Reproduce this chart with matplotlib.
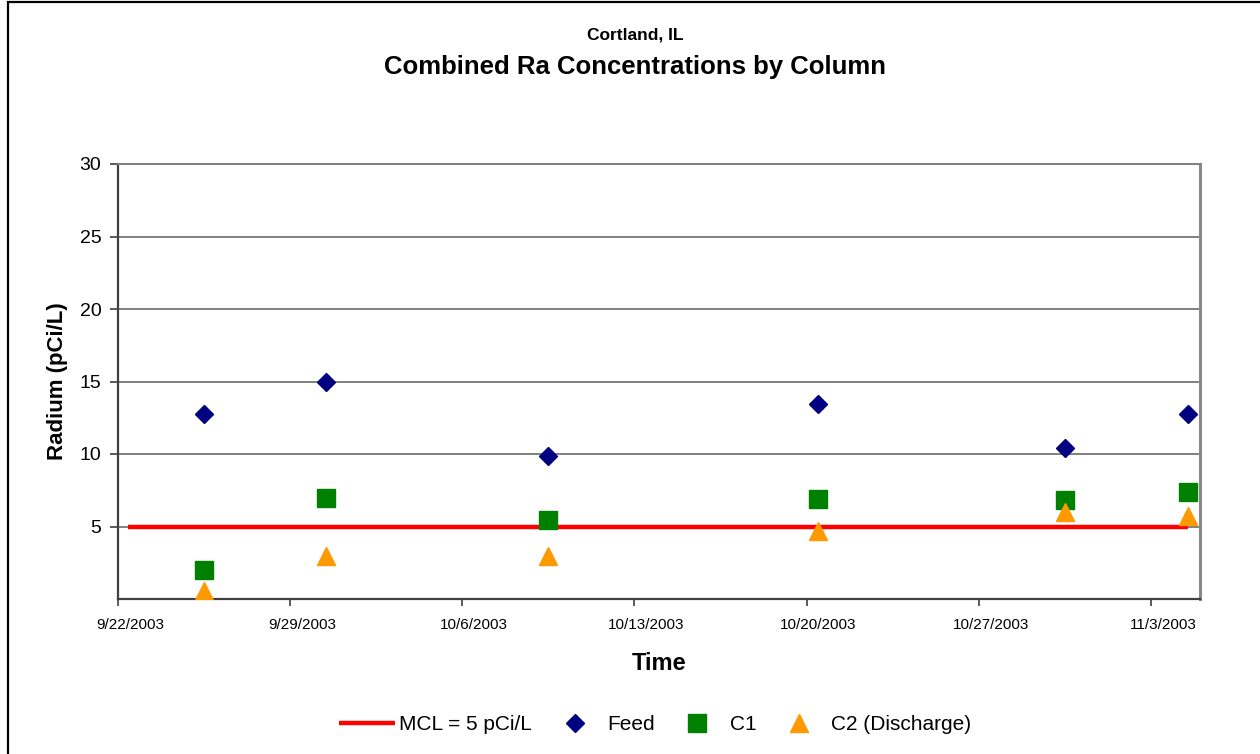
import matplotlib
matplotlib.use('Agg')
import matplotlib.pyplot as plt
import matplotlib.dates as mdates
import matplotlib.transforms as mtransforms
from matplotlib.patches import Rectangle
import pandas as pd

plt.rcParams['font.family'] = ['Liberation Sans', 'DejaVu Sans']

# sample dates (points sit around midday)
sample_dates = pd.to_datetime(['2003-09-25 12:00', '2003-09-30 11:00', '2003-10-09 12:00',
                               '2003-10-20 11:00', '2003-10-30 12:00', '2003-11-04 12:00'])
feed = [12.75, 14.97, 9.86, 13.45, 10.38, 12.76]
c1 = [2.0, 6.94, 5.45, 6.87, 6.83, 7.38]
c2 = [0.55, 3.0, 2.97, 4.69, 6.02, 5.70]

mcl_dates = pd.to_datetime(['2003-09-22 10:00', '2003-11-04 12:00'])
mcl_values = [5, 5]

tick_dates = pd.to_datetime(['2003-09-22', '2003-09-29', '2003-10-06', '2003-10-13',
                             '2003-10-20', '2003-10-27', '2003-11-03'])
tick_labels = ['9/22/2003', '9/29/2003', '10/6/2003', '10/13/2003',
               '10/20/2003', '10/27/2003', '11/3/2003']

fig = plt.figure(figsize=(12.6, 7.54), dpi=100)
ax = fig.add_axes([118 / 1260, 155 / 754, 1082 / 1260, 435 / 754])

ax.plot(mcl_dates, mcl_values, color='#FF0000', lw=3.2, solid_capstyle='butt',
        label='MCL = 5 pCi/L', zorder=3)
ax.plot(sample_dates, feed, ls='none', marker='D', ms=9.4, color='#000080',
        label='Feed', zorder=4)
ax.plot(sample_dates, c1, ls='none', marker='s', ms=13, color='#008000',
        label='C1', zorder=4)
ax.plot(sample_dates, c2, ls='none', marker='^', ms=13, color='#FF9900',
        label='C2 (Discharge)', zorder=5)

ax.set_xlim(pd.Timestamp('2003-09-22'), pd.Timestamp('2003-11-05'))
ax.set_ylim(0, 30)
ax.set_yticks([5, 10, 15, 20, 25, 30])
ax.set_xticks(mdates.date2num(tick_dates))
ax.set_xticklabels(tick_labels, fontsize=11)
ax.tick_params(axis='y', labelsize=14, direction='out', length=6, width=1.2,
               color='#404040', pad=6)
ax.tick_params(axis='x', direction='out', length=5, width=1.2, color='#404040', pad=9)
# Excel style: date labels sit a bit to the right of the tick
shift = mtransforms.ScaledTranslation(12 / 100, 0, fig.dpi_scale_trans)
for lab in ax.get_xticklabels():
    lab.set_transform(lab.get_transform() + shift)

ax.yaxis.grid(True, color='#808080', lw=1.4)
ax.set_axisbelow(True)
for side in ['left', 'bottom']:
    ax.spines[side].set_color('#404040')
    ax.spines[side].set_linewidth(1.6)
ax.spines['right'].set_color('#888888')
ax.spines['right'].set_linewidth(2.2)
ax.spines['top'].set_color('#808080')
ax.spines['top'].set_linewidth(1.4)

ax.set_ylabel('Radium (pCi/L)', fontsize=16, fontweight='bold', labelpad=8)
ax.set_xlabel('Time', fontsize=17, fontweight='bold', labelpad=14)

fig.text(0.504, 1 - 35 / 754, 'Cortland, IL', ha='center', va='center',
         fontsize=12.5, fontweight='bold')
fig.text(0.504, 1 - 67 / 754, 'Combined Ra Concentrations by Column', ha='center',
         va='center', fontsize=18.5, fontweight='bold')

fig.legend(loc='center', bbox_to_anchor=(655 / 1260, 29 / 754), ncol=4, frameon=False,
           fontsize=15, handlelength=2.7, handletextpad=0.2, columnspacing=0.7)

# outer chart border
fig.patches.append(Rectangle((8 / 1260, -0.05), 1.1, 1 - 2 / 754 + 0.05,
                             transform=fig.transFigure, fill=False, ec='black', lw=1.6))

fig.savefig('out.png', dpi=100)
